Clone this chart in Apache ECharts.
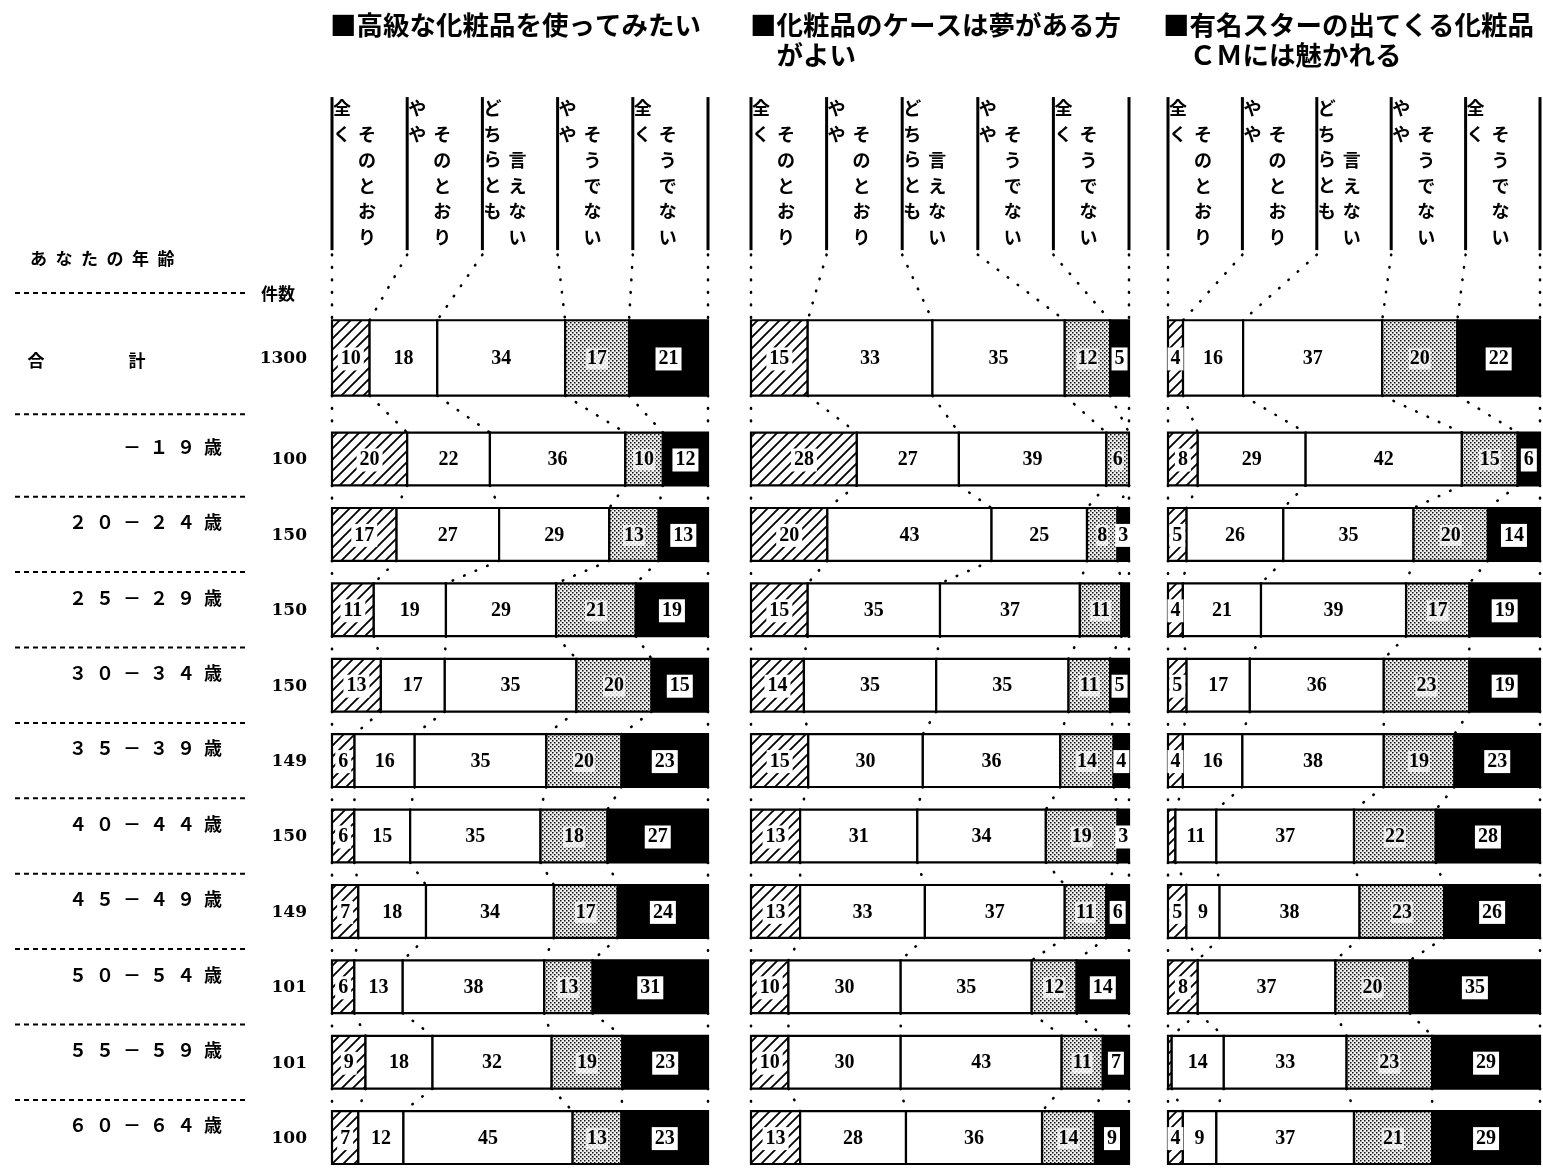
<!DOCTYPE html>
<html>
<head>
<meta charset="utf-8">
<title>化粧品に対する意識（年齢別）</title>
<script src="https://cdn.jsdelivr.net/npm/echarts@6/dist/echarts.min.js"></script>
<style>
  html, body { margin: 0; padding: 0; background: #fff; }
  #chart { width: 1543px; height: 1173px; }
</style>
</head>
<body>
<div id="chart"></div>
<script>
// 行（年齢）と件数
const rowLabels = ['合計', '－１９歳', '２０－２４歳', '２５－２９歳', '３０－３４歳', '３５－３９歳',
  '４０－４４歳', '４５－４９歳', '５０－５４歳', '５５－５９歳', '６０－６４歳']
const counts = [1300, 100, 150, 150, 150, 149, 150, 149, 101, 101, 100]

// 回答カテゴリ（縦書き見出し：左列・右列）
const answerHeads = [
  ['全く', 'そのとおり'],
  ['やや', 'そのとおり'],
  ['どちらとも', '言えない'],
  ['やや', 'そうでない'],
  ['全く', 'そうでない']
]

const titles = [
  '■高級な化粧品を使ってみたい',
  '■化粧品のケースは夢がある方\n\u3000がよい',
  '■有名スターの出てくる化粧品\n\u3000ＣＭには魅かれる'
]

// 各設問の構成比（%）: 行 = 合計, －19歳 ... 60－64歳
const q1 = [
  [10, 18, 34, 17, 21], [20, 22, 36, 10, 12], [17, 27, 29, 13, 13], [11, 19, 29, 21, 19],
  [13, 17, 35, 20, 15], [6, 16, 35, 20, 23], [6, 15, 35, 18, 27], [7, 18, 34, 17, 24],
  [6, 13, 38, 13, 31], [9, 18, 32, 19, 23], [7, 12, 45, 13, 23]
]
const q2 = [
  [15, 33, 35, 12, 5], [28, 27, 39, 6, 0], [20, 43, 25, 8, 3], [15, 35, 37, 11, 2],
  [14, 35, 35, 11, 5], [15, 30, 36, 14, 4], [13, 31, 34, 19, 3], [13, 33, 37, 11, 6],
  [10, 30, 35, 12, 14], [10, 30, 43, 11, 7], [13, 28, 36, 14, 9]
]
const q3 = [
  [4, 16, 37, 20, 22], [8, 29, 42, 15, 6], [5, 26, 35, 20, 14], [4, 21, 39, 17, 19],
  [5, 17, 36, 23, 19], [4, 16, 38, 19, 23], [2, 11, 37, 22, 28], [5, 9, 38, 23, 26],
  [8, 0, 37, 20, 35], [1, 14, 33, 23, 29], [4, 9, 37, 21, 29]
]
const questions = [q1, q2, q3]

// レイアウト（y軸の単位 = 年齢行の間隔）
const Y0 = 459
const YU = 75.4
const YMIN = -5
const YMAX = 9.4
const TOTAL_Y = -1.34
const HEAD_TOP = -4.8
const HEAD_BOT = -2.77
const HEAD_LINK = -2.71
const rowY = i => i === 0 ? TOTAL_Y : i - 1
const rowH = i => i === 0 ? 1.0 : 0.7
const panelGrids = [
  { left: 332, width: 376 },
  { left: 751, width: 378 },
  { left: 1168, width: 372 }
]

const JP = 'Noto Sans CJK JP'
const NUM = 'Liberation Serif'

// 斜線・網点のパターン
function hatchPattern () {
  const s = 11
  const c = document.createElement('canvas')
  c.width = s; c.height = s
  const g = c.getContext('2d')
  g.fillStyle = '#fff'; g.fillRect(0, 0, s, s)
  g.strokeStyle = '#000'; g.lineWidth = 1.8
  g.beginPath()
  g.moveTo(-1, s + 1); g.lineTo(s + 1, -1)
  g.moveTo(-1, 1); g.lineTo(1, -1)
  g.moveTo(s - 1, s + 1); g.lineTo(s + 1, s - 1)
  g.stroke()
  return c
}
function dotPattern () {
  const c = document.createElement('canvas')
  c.width = 4; c.height = 4
  const g = c.getContext('2d')
  g.fillStyle = '#eeeeee'; g.fillRect(0, 0, 4, 4)
  g.fillStyle = '#111'
  g.fillRect(0, 0, 1.5, 1.5)
  g.fillRect(2, 2, 1.5, 1.5)
  return c
}
const fills = [
  { image: hatchPattern(), repeat: 'repeat' },
  '#fff',
  '#fff',
  { image: dotPattern(), repeat: 'repeat' },
  '#000'
]

const toCum = vals => {
  const total = vals.reduce((a, b) => a + b, 0)
  const cum = [0]
  vals.forEach(v => cum.push(cum[cum.length - 1] + v * 100 / total))
  return cum
}

const dotted = (a, b) => ({
  type: 'line',
  shape: { x1: a[0], y1: a[1], x2: b[0], y2: b[1] },
  style: { stroke: '#000', lineWidth: 2.6, lineDash: [0.5, 12], lineCap: 'round' }
})

function barRender (answers) {
  return function (params, api) {
    const i = params.dataIndex
    const vals = [1, 2, 3, 4, 5].map(d => api.value(d))
    const cum = toCum(vals)
    const yc = rowY(i)
    const h = rowH(i)
    const children = []
    if (i === 0) { // 見出し → 合計
      for (let k = 0; k <= 5; k++) {
        children.push(dotted(api.coord([k * 20, HEAD_LINK]), api.coord([cum[k], yc - h / 2])))
      }
    }
    if (i < answers.length - 1) { // 行 → 次の行
      const nc = toCum(answers[i + 1])
      const ny = rowY(i + 1) - rowH(i + 1) / 2
      for (let k = 0; k <= 5; k++) {
        children.push(dotted(api.coord([cum[k], yc + h / 2]), api.coord([nc[k], ny])))
      }
    }
    for (let k = 0; k < 5; k++) {
      if (vals[k] <= 0) continue
      const p0 = api.coord([cum[k], yc - h / 2])
      const p1 = api.coord([cum[k + 1], yc + h / 2])
      children.push({
        type: 'rect',
        shape: { x: p0[0], y: p0[1], width: p1[0] - p0[0], height: p1[1] - p0[1] },
        style: { fill: fills[k], stroke: '#000', lineWidth: 2.2 }
      })
    }
    for (let k = 0; k < 5; k++) {
      if (vals[k] < 3) continue
      const c = api.coord([(cum[k] + cum[k + 1]) / 2, yc])
      const boxed = k === 0 || k === 4
      const halo = k === 3
      children.push({
        type: 'text',
        style: {
          text: String(vals[k]),
          x: c[0], y: c[1] + 1,
          align: 'center', verticalAlign: 'middle',
          fontSize: 20, fontFamily: NUM, fontWeight: 'bold',
          fill: '#000',
          backgroundColor: boxed ? '#fff' : (halo ? 'rgba(255,255,255,0.75)' : null),
          padding: boxed ? [2, 3, 1, 3] : (halo ? [1, 1, 0, 1] : 0)
        }
      })
    }
    return { type: 'group', children }
  }
}

function headRender (params, api) {
  const k = params.dataIndex
  const children = []
  const xs = k === 4 ? [k * 20, 100] : [k * 20]
  xs.forEach(x => {
    const a = api.coord([x, HEAD_TOP])
    const b = api.coord([x, HEAD_BOT])
    children.push({ type: 'line', shape: { x1: a[0], y1: a[1], x2: b[0], y2: b[1] }, style: { stroke: '#000', lineWidth: 3 } })
  })
  const top = api.coord([k * 20, HEAD_TOP])
  const bot = api.coord([k * 20, HEAD_BOT])
  const lh = 25.7
  const [leftPart, rightPart] = answerHeads[k]
  const txt = (s, x, y) => ({
    type: 'text',
    style: {
      text: s.split('').join('\n'), x, y,
      align: 'center', verticalAlign: 'top', lineHeight: lh,
      fontSize: 18, fontFamily: JP, fontWeight: 'bold', fill: '#000'
    }
  })
  children.push(txt(leftPart, top[0] + 10, top[1] + 11 - lh / 2))
  children.push(txt(rightPart, top[0] + 35, bot[1] - 13 - lh * (rightPart.length - 1) - lh / 2))
  return { type: 'group', children }
}

function sideRender (params, api) {
  const i = params.dataIndex
  const children = []
  const yc = rowY(i)
  const sepY = i === 0 ? TOTAL_Y - 0.86 : ((rowY(i - 1) + rowH(i - 1) / 2) + (rowY(i) - rowH(i) / 2)) / 2
  const s0 = api.coord([15, sepY])
  const s1 = api.coord([245, sepY])
  children.push({
    type: 'line',
    shape: { x1: s0[0], y1: s0[1], x2: s1[0], y2: s1[1] },
    style: { stroke: '#000', lineWidth: 2, lineDash: [5, 4] }
  })
  const jp = (text, x, y, align, size) => ({
    type: 'text',
    style: { text, x, y, align, verticalAlign: 'middle', fontSize: size, fontFamily: JP, fontWeight: 'bold', fill: '#000' }
  })
  if (i === 0) {
    const t = api.coord([30, TOTAL_Y - 1.32])
    children.push(jp('あなたの年齢'.split('').join('\u2002'), t[0], t[1], 'left', 17))
    const n = api.coord([278, sepY])
    children.push(jp('件数', n[0], n[1], 'center', 17))
    const a = api.coord([36, yc])
    const b = api.coord([137, yc])
    children.push(jp('合', a[0], a[1] + 3, 'center', 17))
    children.push(jp('計', b[0], b[1] + 3, 'center', 17))
  } else {
    const a = api.coord([222, yc])
    children.push(jp(rowLabels[i].split('').join('\u2002'), a[0], a[1] - 12, 'right', 18))
  }
  const c = api.coord([307, yc])
  children.push({
    type: 'text',
    style: {
      text: String(counts[i]), x: c[0], y: c[1] + 1, align: 'right', verticalAlign: 'middle',
      fontSize: 17, fontFamily: 'DejaVu Serif', fontWeight: 'bold', fill: '#000'
    }
  })
  return { type: 'group', children }
}

const gridTop = Y0 + YU * YMIN
const gridHeight = YU * (YMAX - YMIN)
const hiddenY = { type: 'value', min: YMIN, max: YMAX, inverse: true, show: false }

const option = {
  animation: false,
  backgroundColor: '#fff',
  title: titles.map((t, p) => ({
    text: t,
    left: [330, 750, 1163][p],
    top: 10,
    padding: 0,
    textStyle: { fontSize: 26.5, fontFamily: JP, fontWeight: 'bold', lineHeight: 30, color: '#000' }
  })),
  grid: [
    ...panelGrids.map(g => ({ left: g.left, width: g.width, top: gridTop, height: gridHeight })),
    { left: 0, width: 320, top: gridTop, height: gridHeight }
  ],
  xAxis: [
    ...panelGrids.map((g, p) => ({ type: 'value', gridIndex: p, min: 0, max: 100, show: false })),
    { type: 'value', gridIndex: 3, min: 0, max: 320, show: false }
  ],
  yAxis: [0, 1, 2, 3].map(p => ({ ...hiddenY, gridIndex: p })),
  series: [
    ...questions.map((q, p) => ({
      type: 'custom',
      name: 'head' + p,
      xAxisIndex: p,
      yAxisIndex: p,
      silent: true,
      renderItem: headRender,
      data: answerHeads.map((h, k) => [k * 20, HEAD_TOP])
    })),
    ...questions.map((q, p) => ({
      type: 'custom',
      name: 'bars' + p,
      xAxisIndex: p,
      yAxisIndex: p,
      silent: true,
      renderItem: barRender(q),
      encode: { x: 1, y: 0 },
      data: q.map((vals, i) => [rowY(i), ...vals])
    })),
    {
      type: 'custom',
      name: 'side',
      xAxisIndex: 3,
      yAxisIndex: 3,
      silent: true,
      renderItem: sideRender,
      data: rowLabels.map((l, i) => [0, rowY(i)])
    }
  ]
}

const chart = echarts.init(document.getElementById('chart'))
chart.setOption(option)
</script>
</body>
</html>
